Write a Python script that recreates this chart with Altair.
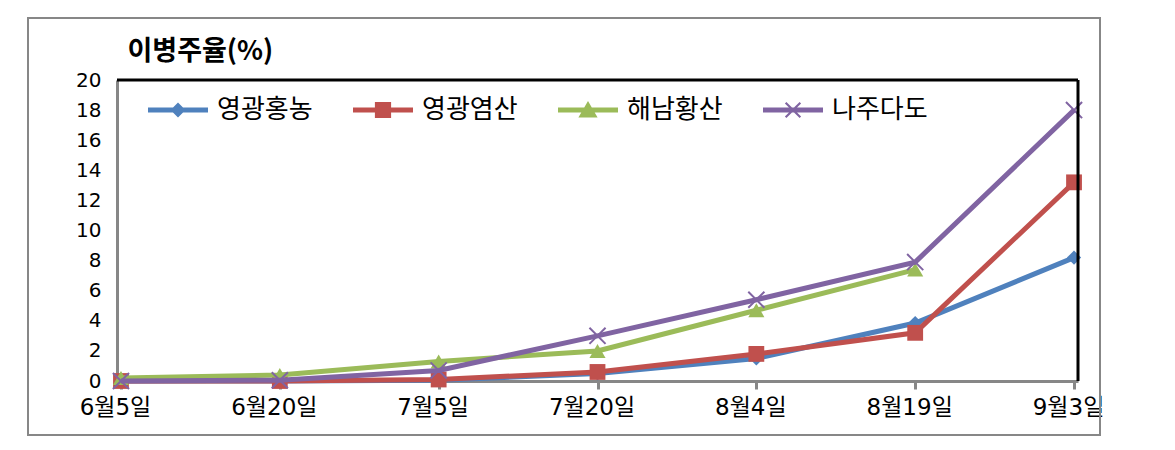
import altair as alt
import pandas as pd

# ---------------- data ----------------
dates = ["6월5일", "6월20일", "7월5일", "7월20일", "8월4일", "8월19일", "9월3일"]
series_names = ["영광홍농", "영광염산", "해남황산", "나주다도"]
hongnong = [0, 0, 0.05, 0.5, 1.5, 3.85, 8.2]
yeomsan = [0, 0, 0.1, 0.6, 1.8, 3.2, 13.2]
hwangsan = [0.2, 0.4, 1.3, 2.0, 4.7, 7.4, None]
dado = [0, 0.05, 0.7, 3.0, 5.4, 7.9, 18.0]
y_ticks = list(range(0, 21, 2))
y_title = "이병주율(%)"

colors = ["#4F81BD", "#C0504D", "#9BBB59", "#8064A2"]

rows = []
for name, vals in zip(series_names, [hongnong, yeomsan, hwangsan, dado]):
    for d, v in zip(dates, vals):
        if v is not None:
            rows.append({"series": name, "date": d, "value": v})
df = pd.DataFrame(rows)

# ---------------- style ----------------
W, H = 961, 301
KFONT = "Noto Sans CJK KR"
MIX = "DejaVu Sans, Noto Sans CJK KR"
GRAY = "#878787"

x_enc = alt.X(
    "date:N",
    sort=dates,
    scale=alt.Scale(type="point", domain=dates, padding=0.025),
    axis=alt.Axis(
        title=None, labelAngle=0, labelFont=MIX, labelFontSize=23, labelColor="black",
        labelPadding=7, labelOffset=-6, domainColor=GRAY, domainWidth=3,
        tickColor=GRAY, tickWidth=3, tickSize=8, grid=False, labelOverlap=False,
    ),
)
y_enc = alt.Y(
    "value:Q",
    scale=alt.Scale(domain=[0, 20], nice=False),
    axis=alt.Axis(
        values=y_ticks, title=y_title, titleAngle=0, titleAlign="left",
        titleBaseline="alphabetic", titleX=10, titleY=-21, titleFont=KFONT,
        titleFontSize=27, titleFontWeight="bold", titleColor="black",
        labelFont="DejaVu Sans", labelFontSize=20, labelColor="black",
        labelPadding=16, ticks=False, domainColor=GRAY, domainWidth=3, grid=False,
    ),
)

# legend symbols: line + marker (unit square -1..1)
line_part = "M-1,-0.085L1,-0.085L1,0.085L-1,0.085Z"
a, w = 0.27, 0.05
x_poly = (f"M{-a},{-a+w}L{-a+w},{-a}L0,{-w}L{a-w},{-a}L{a},{-a+w}L{w},0"
          f"L{a},{a-w}L{a-w},{a}L0,{w}L{-a+w},{a}L{-a},{a-w}L{-w},0Z")
legend_paths = [
    line_part + "M0,-0.25L0.25,0L0,0.25L-0.25,0Z",
    line_part + "M-0.27,-0.27L0.27,-0.27L0.27,0.27L-0.27,0.27Z",
    line_part + "M0,-0.3L0.32,0.25L-0.32,0.25Z",
    line_part + x_poly,
]

legend = alt.Legend(
    orient="none", legendX=31, legendY=0, direction="horizontal", title=None,
    labelFont=KFONT, labelFontSize=26, labelColor="black", symbolSize=3600,
    symbolOpacity=1, symbolStrokeWidth=0, labelOffset=9, columnPadding=40, padding=0,
)

one = alt.Data(values=[{"k": 1}])

frame = alt.Chart(one).mark_rect(fillOpacity=0, stroke=GRAY, strokeWidth=2).encode(
    x=alt.value(-89), x2=alt.value(983), y=alt.value(-62), y2=alt.value(355)
)

legend_layer = alt.Chart(df).mark_point(filled=True, opacity=0, size=3600).encode(
    x=x_enc, y=y_enc,
    color=alt.Color("series:N", scale=alt.Scale(domain=series_names, range=colors), legend=legend),
    shape=alt.Shape("series:N", scale=alt.Scale(domain=series_names, range=legend_paths), legend=legend),
)

marker_specs = [
    dict(shape="diamond", filled=True, size=200),
    dict(shape="square", filled=True, size=250),
    dict(shape="triangle-up", filled=True, size=260),
    dict(shape="M-1,-1L1,1M-1,1L1,-1", filled=False, size=260, strokeWidth=2),
]

layers = [frame, legend_layer]
for name, col, spec in zip(series_names, colors, marker_specs):
    base = alt.Chart(df).transform_filter(alt.FieldEqualPredicate(field="series", equal=name))
    layers.append(base.mark_line(color=col, strokeWidth=5).encode(x=x_enc, y=y_enc))
    layers.append(base.mark_point(color=col, opacity=1, **spec).encode(x=x_enc, y=y_enc))

top_rule = alt.Chart(one).mark_rule(color="black", strokeWidth=3).encode(
    x=alt.value(0), x2=alt.value(W), y=alt.value(0)
)
right_rule = alt.Chart(one).mark_rule(color="black", strokeWidth=3).encode(
    x=alt.value(W), y=alt.value(0), y2=alt.value(H)
)
layers += [top_rule, right_rule]

chart = alt.layer(*layers).properties(
    width=W, height=H,
    autosize=alt.AutoSizeParams(type="none"),
    padding={"left": 109, "top": 72, "right": 80, "bottom": 60},
).configure_view(stroke=None).configure(background="white")

chart.save("out.html", embed_options={"renderer": "svg", "actions": False})
